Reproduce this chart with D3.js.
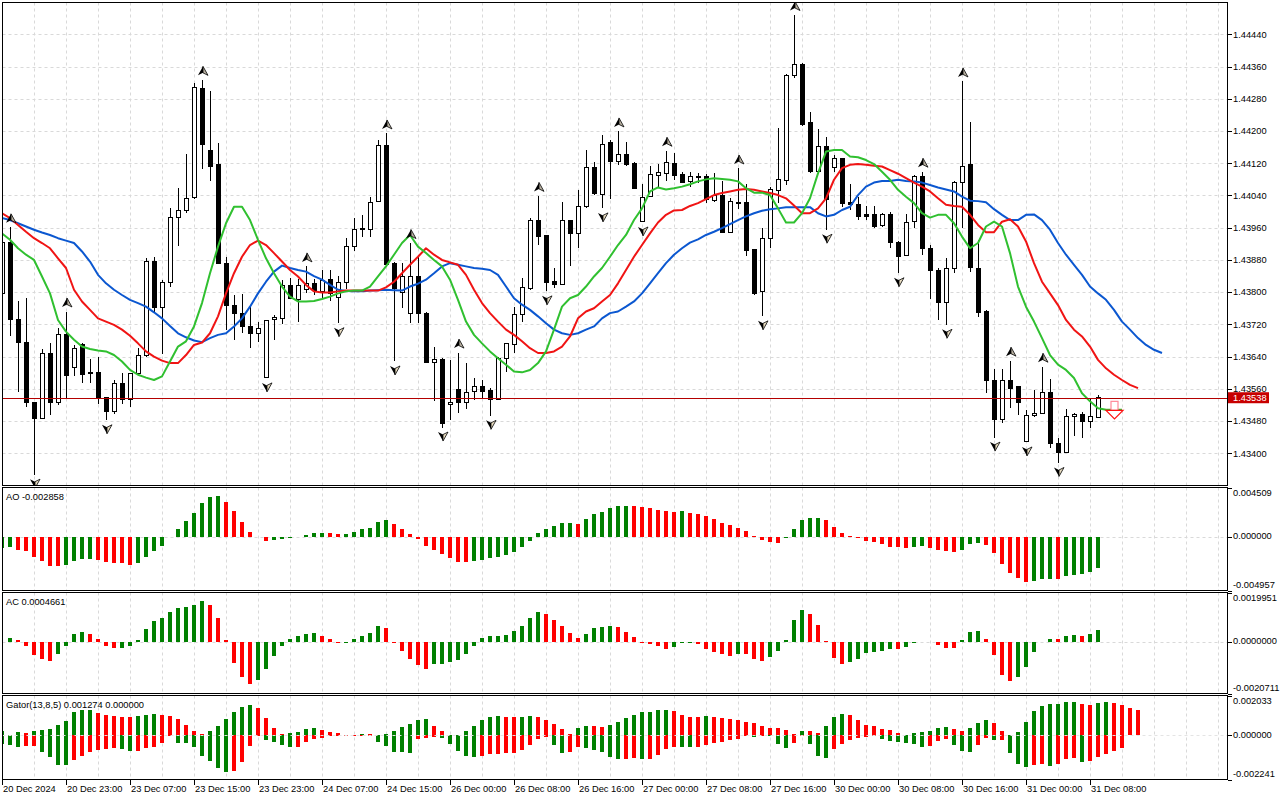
<!DOCTYPE html>
<html>
<head>
<meta charset="utf-8">
<script src="https://cdn.jsdelivr.net/npm/d3@7"></script>
<style>
  body { margin: 0; background: #fff; }
  svg { display: block; font-family: "Liberation Sans", Arial, sans-serif; font-size: 9.3px; }
</style>
</head>
<body>
<div id="chart"></div>
<script>
// H1 candles, 20 Dec 15:00 .. 31 Dec 08:00
const opens = [
  1.43797, 1.43924, 1.43731, 1.43676, 1.43525, 1.43487, 1.43649, 1.43525, 1.43696, 1.43614,
  1.43669, 1.43601, 1.43601, 1.43539, 1.43504, 1.43574, 1.43534, 1.43597, 1.43642, 1.43876,
  1.43763, 1.43825, 1.43985, 1.44002, 1.44035, 1.44306, 1.44151, 1.44116, 1.43872, 1.43768,
  1.43748, 1.43715, 1.43698, 1.43588, 1.43733, 1.43735, 1.43816, 1.43783, 1.43806, 1.43822,
  1.43802, 1.43831, 1.43787, 1.43824, 1.43913, 1.43956, 1.43956, 1.44025, 1.44163, 1.43872,
  1.43799, 1.43748, 1.43840, 1.43748, 1.43626, 1.43634, 1.43522, 1.43558, 1.43525, 1.43553,
  1.43566, 1.43555, 1.43534, 1.43636, 1.43669, 1.43745, 1.43810, 1.43979, 1.43940, 1.43827,
  1.43820, 1.43977, 1.43946, 1.44012, 1.44110, 1.44043, 1.44171, 1.44124, 1.44142, 1.44120,
  1.43975, 1.44037, 1.44089, 1.44095, 1.44120, 1.44091, 1.44075, 1.44088, 1.44087, 1.44027,
  1.44041, 1.43948, 1.44023, 1.44022, 1.43905, 1.43802, 1.43932, 1.44052, 1.44077, 1.44339,
  1.44366, 1.44222, 1.44099, 1.44161, 1.44110, 1.44132, 1.44022, 1.44018, 1.43992, 1.43992,
  1.43965, 1.43992, 1.43924, 1.43891, 1.43975, 1.44088, 1.43909, 1.43855, 1.43774, 1.43859,
  1.44073, 1.44116, 1.43859, 1.43751, 1.43582, 1.43485, 1.43582, 1.43565, 1.43429, 1.43493,
  1.43500, 1.43552, 1.43425, 1.43402, 1.43491, 1.43497, 1.43479, 1.43490
];
const highs = [
  1.43927, 1.43961, 1.43777, 1.43785, 1.43527, 1.43659, 1.43673, 1.43711, 1.43752, 1.43669,
  1.43673, 1.43634, 1.43639, 1.43541, 1.43582, 1.43599, 1.43599, 1.43661, 1.43884, 1.43888,
  1.43831, 1.44008, 1.44058, 1.44143, 1.44318, 1.44327, 1.44300, 1.44171, 1.43887, 1.43793,
  1.43795, 1.43768, 1.43727, 1.43731, 1.43744, 1.43831, 1.43835, 1.43832, 1.43864, 1.43832,
  1.43855, 1.43855, 1.43839, 1.43934, 1.43984, 1.43992, 1.44037, 1.44178, 1.44194, 1.43874,
  1.43872, 1.43922, 1.43888, 1.43750, 1.43665, 1.43636, 1.43632, 1.43650, 1.43624, 1.43587,
  1.43582, 1.43562, 1.43640, 1.43675, 1.43763, 1.43835, 1.43984, 1.44039, 1.43942, 1.43859,
  1.44025, 1.43979, 1.44054, 1.44153, 1.44122, 1.44190, 1.44178, 1.44199, 1.44172, 1.44122,
  1.44068, 1.44114, 1.44117, 1.44151, 1.44146, 1.44099, 1.44099, 1.44095, 1.44093, 1.44095,
  1.44075, 1.44033, 1.44107, 1.44068, 1.43907, 1.43959, 1.44062, 1.44207, 1.44342, 1.44488,
  1.44368, 1.44247, 1.44205, 1.44186, 1.44141, 1.44134, 1.44069, 1.44037, 1.44014, 1.44014,
  1.43996, 1.43998, 1.43926, 1.43994, 1.44091, 1.44099, 1.43917, 1.43859, 1.43886, 1.44075,
  1.44323, 1.44222, 1.43930, 1.43756, 1.43609, 1.43610, 1.43630, 1.43567, 1.43508, 1.43558,
  1.43615, 1.43585, 1.43439, 1.43511, 1.43500, 1.43502, 1.43537, 1.43544
];
const lows = [
  1.43794, 1.43690, 1.43553, 1.43515, 1.43347, 1.43485, 1.43496, 1.43520, 1.43537, 1.43591,
  1.43574, 1.43574, 1.43522, 1.43482, 1.43498, 1.43522, 1.43515, 1.43595, 1.43640, 1.43752,
  1.43647, 1.43812, 1.43915, 1.43996, 1.44032, 1.44105, 1.44075, 1.43869, 1.43706, 1.43682,
  1.43698, 1.43661, 1.43676, 1.43586, 1.43682, 1.43721, 1.43783, 1.43725, 1.43797, 1.43792,
  1.43783, 1.43778, 1.43723, 1.43807, 1.43903, 1.43938, 1.43938, 1.44023, 1.43867, 1.43628,
  1.43760, 1.43723, 1.43723, 1.43624, 1.43529, 1.43464, 1.43482, 1.43500, 1.43510, 1.43533,
  1.43537, 1.43493, 1.43532, 1.43603, 1.43650, 1.43725, 1.43806, 1.43917, 1.43802, 1.43810,
  1.43818, 1.43864, 1.43909, 1.44010, 1.44041, 1.44008, 1.44031, 1.44116, 1.44114, 1.44056,
  1.43973, 1.44035, 1.44060, 1.44075, 1.44079, 1.44070, 1.44062, 1.44070, 1.44021, 1.44025,
  1.43946, 1.43946, 1.44006, 1.43890, 1.43793, 1.43740, 1.43909, 1.44021, 1.44066, 1.44331,
  1.44213, 1.44095, 1.44095, 1.43955, 1.44099, 1.44012, 1.44004, 1.43979, 1.43979, 1.43960,
  1.43963, 1.43909, 1.43847, 1.43889, 1.43960, 1.43893, 1.43783, 1.43730, 1.43719, 1.43847,
  1.43959, 1.43851, 1.43738, 1.43549, 1.43439, 1.43475, 1.43512, 1.43494, 1.43427, 1.43491,
  1.43497, 1.43413, 1.43376, 1.43400, 1.43444, 1.43438, 1.43464, 1.43488
];
const closes = [
  1.43924, 1.43733, 1.43676, 1.43525, 1.43487, 1.43647, 1.43525, 1.43696, 1.43593, 1.43659,
  1.43595, 1.43597, 1.43539, 1.43504, 1.43574, 1.43534, 1.43597, 1.43643, 1.43876, 1.43763,
  1.43825, 1.43985, 1.44002, 1.44032, 1.44308, 1.44167, 1.44112, 1.43872, 1.43767, 1.43748,
  1.43715, 1.43698, 1.43711, 1.43729, 1.43737, 1.43816, 1.43785, 1.43816, 1.43822, 1.43803,
  1.43828, 1.43797, 1.43824, 1.43913, 1.43956, 1.43959, 1.44023, 1.44163, 1.43869, 1.43808,
  1.43839, 1.43840, 1.43748, 1.43625, 1.43634, 1.43475, 1.43527, 1.43525, 1.43551, 1.43566,
  1.43553, 1.43534, 1.43636, 1.43672, 1.43745, 1.43812, 1.43979, 1.43938, 1.43824, 1.43818,
  1.43977, 1.43946, 1.44012, 1.44110, 1.44044, 1.44167, 1.44124, 1.44141, 1.44117, 1.44058,
  1.44035, 1.44091, 1.44096, 1.44121, 1.44089, 1.44072, 1.44088, 1.44084, 1.44029, 1.44041,
  1.43948, 1.44025, 1.44021, 1.43903, 1.43797, 1.43932, 1.44054, 1.44080, 1.44339, 1.44366,
  1.44215, 1.44099, 1.44161, 1.44029, 1.44132, 1.44021, 1.44017, 1.43988, 1.43989, 1.43964,
  1.43992, 1.43923, 1.43888, 1.43974, 1.44088, 1.43909, 1.43854, 1.43774, 1.43859, 1.44073,
  1.44113, 1.43861, 1.43749, 1.43582, 1.43485, 1.43582, 1.43562, 1.43526, 1.43493, 1.43500,
  1.43552, 1.43425, 1.43402, 1.43491, 1.43497, 1.43479, 1.43491, 1.43538
];

// Alligator lines (already shifted forward: jaw 8, teeth 5, lips 3)
const jaw = [
  1.43984, 1.43979, 1.43971, 1.43963, 1.43955, 1.43948, 1.43942, 1.43934, 1.43928, 1.43922,
  1.43901, 1.43876, 1.43843, 1.43822, 1.43806, 1.43793, 1.43781, 1.43773, 1.43764, 1.43750,
  1.43735, 1.43716, 1.43698, 1.43688, 1.43680, 1.43676, 1.43686, 1.43694, 1.43698, 1.43715,
  1.43735, 1.43764, 1.43797, 1.43826, 1.43851, 1.43866, 1.43860, 1.43855, 1.43851, 1.43840,
  1.43831, 1.43818, 1.43806, 1.43803, 1.43802, 1.43802, 1.43804, 1.43805, 1.43806, 1.43805,
  1.43804, 1.43814, 1.43821, 1.43831, 1.43847, 1.43864, 1.43872, 1.43868, 1.43864, 1.43860,
  1.43858, 1.43855, 1.43843, 1.43814, 1.43785, 1.43769, 1.43756, 1.43740, 1.43723, 1.43707,
  1.43698, 1.43694, 1.43698, 1.43707, 1.43715, 1.43735, 1.43748, 1.43752, 1.43764, 1.43777,
  1.43797, 1.43822, 1.43847, 1.43872, 1.43893, 1.43909, 1.43923, 1.43931, 1.43942, 1.43950,
  1.43959, 1.43969, 1.43979, 1.43988, 1.43996, 1.44002, 1.44006, 1.44008, 1.44011, 1.44011,
  1.44011, 1.44011, 1.43996, 1.43988, 1.43992, 1.44004, 1.44012, 1.44041, 1.44062, 1.44072,
  1.44076, 1.44076, 1.44079, 1.44076, 1.44075, 1.44072, 1.44066, 1.44060, 1.44055, 1.44050,
  1.44037, 1.44027, 1.44026, 1.44023, 1.44006, 1.43992, 1.43979, 1.43979, 1.43992, 1.43993,
  1.43979, 1.43955, 1.43922, 1.43893, 1.43868, 1.43843, 1.43814, 1.43797, 1.43781, 1.43756,
  1.43727, 1.43707, 1.43686, 1.43669, 1.43657, 1.43649
];
const teeth = [
  1.43996, 1.43984, 1.43967, 1.43950, 1.43934, 1.43922, 1.43909, 1.43884, 1.43860, 1.43806,
  1.43777, 1.43756, 1.43735, 1.43727, 1.43719, 1.43707, 1.43692, 1.43673, 1.43653, 1.43640,
  1.43630, 1.43624, 1.43624, 1.43644, 1.43669, 1.43675, 1.43698, 1.43740, 1.43797, 1.43847,
  1.43888, 1.43917, 1.43928, 1.43917, 1.43897, 1.43876, 1.43855, 1.43839, 1.43818, 1.43802,
  1.43799, 1.43799, 1.43802, 1.43804, 1.43804, 1.43804, 1.43804, 1.43804, 1.43812, 1.43826,
  1.43847, 1.43868, 1.43888, 1.43909, 1.43893, 1.43880, 1.43874, 1.43868, 1.43843, 1.43806,
  1.43773, 1.43748, 1.43727, 1.43707, 1.43694, 1.43678, 1.43661, 1.43649, 1.43649, 1.43653,
  1.43665, 1.43690, 1.43735, 1.43752, 1.43760, 1.43777, 1.43793, 1.43822, 1.43855, 1.43888,
  1.43917, 1.43946, 1.43973, 1.43992, 1.44003, 1.44004, 1.44014, 1.44021, 1.44031, 1.44041,
  1.44046, 1.44050, 1.44054, 1.44056, 1.44054, 1.44050, 1.44046, 1.44041, 1.44033, 1.44015,
  1.43996, 1.43996, 1.44008, 1.44033, 1.44079, 1.44108, 1.44116, 1.44118, 1.44116, 1.44114,
  1.44112, 1.44103, 1.44094, 1.44083, 1.44072, 1.44062, 1.44050, 1.44033, 1.44017, 1.44014,
  1.44012, 1.43992, 1.43967, 1.43949, 1.43949, 1.43975, 1.43981, 1.43963, 1.43926, 1.43872,
  1.43826, 1.43797, 1.43768, 1.43731, 1.43707, 1.43690, 1.43665, 1.43632, 1.43611, 1.43595,
  1.43582, 1.43570, 1.43562
];
const lips = [
  1.43946, 1.43930, 1.43909, 1.43893, 1.43880, 1.43839, 1.43797, 1.43731, 1.43702, 1.43682,
  1.43665, 1.43659, 1.43655, 1.43653, 1.43644, 1.43628, 1.43607, 1.43595, 1.43588, 1.43582,
  1.43591, 1.43628, 1.43665, 1.43678, 1.43715, 1.43773, 1.43847, 1.43913, 1.43971, 1.44012,
  1.44012, 1.43979, 1.43930, 1.43884, 1.43847, 1.43814, 1.43789, 1.43777, 1.43777, 1.43778,
  1.43783, 1.43789, 1.43797, 1.43802, 1.43804, 1.43804, 1.43814, 1.43839, 1.43864, 1.43893,
  1.43922, 1.43942, 1.43913, 1.43897, 1.43880, 1.43864, 1.43831, 1.43781, 1.43727, 1.43694,
  1.43673, 1.43653, 1.43636, 1.43620, 1.43603, 1.43601, 1.43607, 1.43624, 1.43653, 1.43707,
  1.43764, 1.43785, 1.43793, 1.43814, 1.43839, 1.43860, 1.43888, 1.43917, 1.43942, 1.43979,
  1.44008, 1.44050, 1.44060, 1.44055, 1.44058, 1.44062, 1.44068, 1.44075, 1.44080, 1.44083,
  1.44081, 1.44079, 1.44075, 1.44058, 1.44047, 1.44047, 1.44041, 1.44008, 1.43973, 1.43973,
  1.43996, 1.44033, 1.44095, 1.44149, 1.44153, 1.44153, 1.44137, 1.44135, 1.44128, 1.44118,
  1.44099, 1.44079, 1.44054, 1.44037, 1.44021, 1.43996, 1.43985, 1.43992, 1.43992, 1.43971,
  1.43938, 1.43909, 1.43922, 1.43963, 1.43975, 1.43963, 1.43897, 1.43814, 1.43764, 1.43727,
  1.43686, 1.43644, 1.43620, 1.43607, 1.43587, 1.43549, 1.43529, 1.43512, 1.43508, 1.43508,
  1.43508
];

// Bill Williams fractals (bar indices)
const fractalUp = [1, 8, 25, 38, 48, 51, 57, 67, 77, 83, 92, 99, 115, 120, 126, 130];
const fractalDown = [4, 13, 33, 42, 49, 55, 61, 68, 75, 80, 95, 103, 112, 118, 124, 128, 132];
const sellSignal = { index: 139, price: 1.43529 };
const lastPrice = 1.43538;

const ao = [
  -0.00105, -0.00099, -0.00123, -0.00136, -0.00191, -0.00228, -0.00268, -0.00270, -0.00265, -0.00222,
  -0.00206, -0.00203, -0.00215, -0.00231, -0.00246, -0.00247, -0.00259, -0.00240, -0.00185, -0.00129,
  -0.00083, -0.00006, 0.00065, 0.00139, 0.00212, 0.00305, 0.00360, 0.00369, 0.00314, 0.00231,
  0.00135, 0.00046, -0.00006, -0.00037, -0.00035, -0.00022, -0.00012, -0.00003, 0.00015, 0.00034,
  0.00035, 0.00033, 0.00025, 0.00026, 0.00043, 0.00065, 0.00083, 0.00135, 0.00154, 0.00111,
  0.00071, 0.00025, -0.00025, -0.00089, -0.00120, -0.00163, -0.00200, -0.00237, -0.00238, -0.00225,
  -0.00212, -0.00200, -0.00191, -0.00172, -0.00145, -0.00099, -0.00037, 0.00034, 0.00071, 0.00099,
  0.00126, 0.00127, 0.00120, 0.00157, 0.00203, 0.00228, 0.00259, 0.00277, 0.00283, 0.00282,
  0.00268, 0.00265, 0.00246, 0.00231, 0.00230, 0.00232, 0.00219, 0.00209, 0.00185, 0.00163,
  0.00126, 0.00102, 0.00080, 0.00052, 0.00009, -0.00031, -0.00046, -0.00055, -0.00012, 0.00071,
  0.00148, 0.00172, 0.00173, 0.00148, 0.00086, 0.00031, 0.00008, -0.00010, -0.00037, -0.00052,
  -0.00072, -0.00099, -0.00100, -0.00103, -0.00095, -0.00089, -0.00108, -0.00120, -0.00136, -0.00145,
  -0.00120, -0.00071, -0.00062, -0.00077, -0.00154, -0.00256, -0.00339, -0.00385, -0.00413, -0.00404,
  -0.00388, -0.00386, -0.00388, -0.00360, -0.00351, -0.00342, -0.00323, -0.002858
];
const ac = [
  0.00000, 0.00015, 0.00007, -0.00015, -0.00053, -0.00069, -0.00077, -0.00049, -0.00015, 0.00033,
  0.00041, 0.00033, 0.00011, -0.00015, -0.00023, -0.00022, -0.00015, 0.00007, 0.00053, 0.00085,
  0.00098, 0.00122, 0.00138, 0.00142, 0.00150, 0.00167, 0.00150, 0.00098, 0.00007, -0.00085,
  -0.00141, -0.00169, -0.00153, -0.00110, -0.00056, -0.00015, 0.00011, 0.00024, 0.00031, 0.00037,
  0.00024, 0.00011, -0.00003, -0.00002, 0.00011, 0.00024, 0.00035, 0.00065, 0.00057, -0.00003,
  -0.00037, -0.00069, -0.00093, -0.00110, -0.00089, -0.00088, -0.00081, -0.00073, -0.00049, -0.00016,
  0.00016, 0.00024, 0.00025, 0.00028, 0.00045, 0.00066, 0.00098, 0.00122, 0.00114, 0.00089,
  0.00065, 0.00037, 0.00016, 0.00033, 0.00057, 0.00061, 0.00065, 0.00061, 0.00041, 0.00020,
  -0.00004, -0.00008, -0.00016, -0.00027, -0.00019, -0.00005, -0.00003, -0.00008, -0.00027, -0.00041,
  -0.00049, -0.00056, -0.00047, -0.00048, -0.00069, -0.00077, -0.00060, -0.00035, 0.00008, 0.00089,
  0.00130, 0.00114, 0.00068, 0.00003, -0.00064, -0.00088, -0.00080, -0.00068, -0.00043, -0.00039,
  -0.00035, -0.00027, -0.00028, -0.00019, -0.00003, 0.00000, -0.00001, -0.00011, -0.00023, -0.00024,
  0.00008, 0.00041, 0.00045, 0.00014, -0.00051, -0.00133, -0.00157, -0.00141, -0.00100, -0.00039,
  -0.00001, 0.00012, 0.00011, 0.00026, 0.00028, 0.00026, 0.00033, 0.0004661
];
const gatorUpper = [
  0.00022, 0.00003, 0.00017, 0.00012, 0.00022, 0.00029, 0.00034, 0.00053, 0.00073, 0.00119,
  0.00127, 0.00129, 0.00114, 0.00103, 0.00098, 0.00093, 0.00092, 0.00098, 0.00103, 0.00109,
  0.00103, 0.00098, 0.00083, 0.00053, 0.00022, 0.00007, 0.00022, 0.00047, 0.00083, 0.00119,
  0.00144, 0.00154, 0.00141, 0.00090, 0.00039, 0.00007, 0.00012, 0.00019, 0.00032, 0.00037,
  0.00027, 0.00017, 0.00012, 0.00001, 0.00003, 0.00006, 0.00005, 0.00001, 0.00007, 0.00022,
  0.00044, 0.00058, 0.00078, 0.00083, 0.00047, 0.00022, 0.00001, 0.00000, 0.00022, 0.00047,
  0.00078, 0.00093, 0.00098, 0.00093, 0.00092, 0.00094, 0.00098, 0.00093, 0.00078, 0.00058,
  0.00032, 0.00007, 0.00037, 0.00047, 0.00046, 0.00045, 0.00053, 0.00068, 0.00088, 0.00103,
  0.00119, 0.00120, 0.00129, 0.00130, 0.00124, 0.00103, 0.00093, 0.00092, 0.00098, 0.00093,
  0.00088, 0.00083, 0.00078, 0.00068, 0.00063, 0.00047, 0.00037, 0.00036, 0.00027, 0.00007,
  0.00022, 0.00021, 0.00012, 0.00047, 0.00093, 0.00109, 0.00103, 0.00078, 0.00053, 0.00047,
  0.00032, 0.00027, 0.00012, 0.00001, 0.00010, 0.00017, 0.00022, 0.00037, 0.00042, 0.00032,
  0.00022, 0.00037, 0.00063, 0.00078, 0.00063, 0.00022, 0.00001, 0.00017, 0.00068, 0.00124,
  0.00149, 0.00159, 0.00160, 0.00170, 0.00171, 0.00160, 0.00155, 0.00165, 0.00170, 0.00165,
  0.00154, 0.00139, 0.001274
];
const gatorLower = [
  -0.00046, -0.00048, -0.00059, -0.00056, -0.00054, -0.00085, -0.00110, -0.00149, -0.00150, -0.00124,
  -0.00102, -0.00085, -0.00073, -0.00068, -0.00064, -0.00068, -0.00078, -0.00077, -0.00064, -0.00059,
  -0.00039, -0.00003, -0.00039, -0.00040, -0.00059, -0.00103, -0.00131, -0.00166, -0.00187, -0.00181,
  -0.00136, -0.00053, -0.00002, -0.00022, -0.00034, -0.00049, -0.00059, -0.00058, -0.00034, -0.00019,
  -0.00012, -0.00003, -0.00002, -0.00001, -0.00001, -0.00001, -0.00001, -0.00032, -0.00054, -0.00085,
  -0.00086, -0.00087, -0.00017, -0.00012, -0.00007, -0.00012, -0.00042, -0.00078, -0.00103, -0.00109,
  -0.00103, -0.00093, -0.00092, -0.00088, -0.00087, -0.00073, -0.00047, -0.00017, -0.00007, -0.00047,
  -0.00088, -0.00083, -0.00058, -0.00063, -0.00073, -0.00083, -0.00109, -0.00119, -0.00118, -0.00114,
  -0.00119, -0.00118, -0.00098, -0.00068, -0.00058, -0.00059, -0.00060, -0.00058, -0.00047, -0.00037,
  -0.00032, -0.00022, -0.00017, -0.00003, -0.00007, -0.00001, -0.00003, -0.00042, -0.00063, -0.00037,
  -0.00003, -0.00042, -0.00103, -0.00114, -0.00068, -0.00042, -0.00022, -0.00012, -0.00007, -0.00003,
  -0.00017, -0.00027, -0.00032, -0.00037, -0.00042, -0.00058, -0.00053, -0.00027, -0.00017, -0.00047,
  -0.00078, -0.00083, -0.00047, -0.00012, -0.00022, -0.00021, -0.00088, -0.00144, -0.00159, -0.00149,
  -0.00144, -0.00154, -0.00144, -0.00119, -0.00114, -0.00134, -0.00129, -0.00109, -0.00093, -0.00078,
  -0.00063
];

const priceTicks = [1.43400, 1.43480, 1.43560, 1.43640, 1.43720, 1.43800, 1.43880,
                    1.43960, 1.44040, 1.44120, 1.44200, 1.44280, 1.44360, 1.44440];
const timeLabels = ["20 Dec 2024", "20 Dec 23:00", "23 Dec 07:00", "23 Dec 15:00", "23 Dec 23:00",
  "24 Dec 07:00", "24 Dec 15:00", "26 Dec 00:00", "26 Dec 08:00", "26 Dec 16:00", "27 Dec 00:00",
  "27 Dec 08:00", "27 Dec 16:00", "30 Dec 00:00", "30 Dec 08:00", "30 Dec 16:00", "31 Dec 00:00",
  "31 Dec 08:00"];
const aoRange = [-0.004957, 0.004509];
const acRange = [-0.0020711, 0.0019951];
const gatorRange = [-0.002241, 0.002033];

const width = 1280, height = 800;
const left = 2.5, right = 1227.5;
const GREEN = "#008000", RED = "#ff0000";

const svg = d3.select("#chart").append("svg")
    .attr("width", width)
    .attr("height", height);

const x = d3.scaleLinear().domain([0, 153]).range([2, 1226]);
const y = d3.scaleLinear().domain([1.434, 1.4444]).range([453.33, 34.33]);
const yAO = d3.scaleLinear().domain(aoRange).range([590.5, 487.5]);
const yAC = d3.scaleLinear().domain(acRange).range([693.5, 592.5]);
const yGator = d3.scaleLinear().domain(gatorRange).range([779.5, 695.5]);

function makePanel(name, top, bottom) {
    svg.append("clipPath").attr("id", "clip-" + name)
      .append("rect")
        .attr("x", left + 0.5).attr("y", top + 0.5)
        .attr("width", right - left - 1).attr("height", bottom - top - 1);
    const g = svg.append("g");
    // vertical grid every 4 bars
    g.append("g").selectAll("line")
      .data(d3.range(4, 153, 4))
      .join("line")
        .attr("x1", i => Math.round(x(i)) + 0.5).attr("x2", i => Math.round(x(i)) + 0.5)
        .attr("y1", top).attr("y2", bottom)
        .attr("stroke", "#d9d9d9").attr("stroke-dasharray", "3,3");
    const body = g.append("g").attr("clip-path", `url(#clip-${name})`);
    g.append("rect")
        .attr("x", left).attr("y", top)
        .attr("width", right - left).attr("height", bottom - top)
        .attr("fill", "none").attr("stroke", "#000").attr("shape-rendering", "crispEdges");
    return body;
}

function hLine(g, yy, color) {
    g.append("line")
        .attr("x1", left).attr("x2", right)
        .attr("y1", Math.round(yy) + 0.5).attr("y2", Math.round(yy) + 0.5)
        .attr("stroke", color).attr("stroke-dasharray", "3,3");
}

// colour each bar by rising / falling vs previous bar
function risingColors(vals, useAbs) {
    let prev = GREEN;
    return vals.map((v, i) => {
        if (i === 0) return prev;
        const a = useAbs ? Math.abs(v) : v, b = useAbs ? Math.abs(vals[i - 1]) : vals[i - 1];
        if (a > b) prev = GREEN; else if (a < b) prev = RED;
        return prev;
    });
}

function histogram(g, vals, scale, colors) {
    g.append("g").attr("shape-rendering", "crispEdges")
      .selectAll("rect")
      .data(vals)
      .join("rect")
        .attr("x", (d, i) => x(i) - 2)
        .attr("width", 4)
        .attr("y", d => Math.min(scale(d), scale(0)))
        .attr("height", d => Math.abs(scale(d) - scale(0)))
        .attr("fill", (d, i) => colors[i]);
}

// ---------- main price panel ----------
const main = makePanel("main", 2.5, 485.5);
priceTicks.forEach(p => hLine(main, y(p), "#d9d9d9"));

const candles = main.append("g").attr("shape-rendering", "crispEdges");
candles.selectAll("line")
  .data(opens)
  .join("line")
    .attr("x1", (d, i) => x(i) + 0.5).attr("x2", (d, i) => x(i) + 0.5)
    .attr("y1", (d, i) => y(highs[i])).attr("y2", (d, i) => y(lows[i]))
    .attr("stroke", "#000");
candles.selectAll("rect")
  .data(opens)
  .join("rect")
    .attr("x", (d, i) => x(i) - 1.5)
    .attr("width", 4)
    .attr("y", (d, i) => y(Math.max(d, closes[i])))
    .attr("height", (d, i) => Math.max(1, Math.abs(y(d) - y(closes[i]))))
    .attr("fill", (d, i) => closes[i] >= d ? "#fff" : "#000")
    .attr("stroke", "#000");

const line = d3.line().x((d, i) => x(i)).y(d => y(d));
[[jaw, "#0b57d0"], [teeth, "#f01414"], [lips, "#30c030"]].forEach(([data, color]) => {
    main.append("path")
        .attr("d", line(data))
        .attr("fill", "none")
        .attr("stroke", color)
        .attr("stroke-width", 2)
        .attr("stroke-linejoin", "round");
});

// last price line
main.append("line")
    .attr("x1", left).attr("x2", right)
    .attr("y1", Math.round(y(lastPrice)) + 0.5).attr("y2", Math.round(y(lastPrice)) + 0.5)
    .attr("stroke", "#b40000").attr("stroke-width", 1);

// fractal arrows
const upArrow = main.append("g").selectAll("g")
  .data(fractalUp)
  .join("g")
    .attr("transform", i => `translate(${x(i) + 1},${y(highs[i]) - 9})`);
upArrow.append("path").attr("d", "M0,-4.5 L-5,4.5 L0,2 Z").attr("fill", "#000");
upArrow.append("path").attr("d", "M0,-4.5 L5,4.5 L0,2 Z").attr("fill", "#b8b0a0")
    .attr("stroke", "#000").attr("stroke-width", 0.8);

const downArrow = main.append("g").selectAll("g")
  .data(fractalDown)
  .join("g")
    .attr("transform", i => `translate(${x(i) + 1},${y(lows[i]) + 9})`);
downArrow.append("path").attr("d", "M0,4.5 L-5,-4.5 L0,-2 Z").attr("fill", "#000");
downArrow.append("path").attr("d", "M0,4.5 L5,-4.5 L0,-2 Z").attr("fill", "#e8dcc0")
    .attr("stroke", "#000").attr("stroke-width", 0.8);

// sell signal arrow: pale shaft, red head
const sx = x(sellSignal.index), sy = y(sellSignal.price);
main.append("rect")
    .attr("x", sx - 3).attr("y", sy)
    .attr("width", 7).attr("height", 9)
    .attr("fill", "#fff")
    .attr("stroke", "#ff8a9a").attr("stroke-width", 1.2);
main.append("path")
    .attr("d", `M${sx - 8},${sy + 9} h17 l-8.5,8.5 Z`)
    .attr("fill", "#fff")
    .attr("stroke", "#ff1010").attr("stroke-width", 1.2)
    .attr("stroke-linejoin", "miter");

// ---------- AO ----------
const aoPanel = makePanel("ao", 487.5, 590.5);
hLine(aoPanel, yAO(0), "#d9d9d9");
histogram(aoPanel, ao, yAO, risingColors(ao, false));

// ---------- AC ----------
const acPanel = makePanel("ac", 592.5, 693.5);
hLine(acPanel, yAC(0), "#d9d9d9");
histogram(acPanel, ac, yAC, risingColors(ac, false));

// ---------- Gator ----------
const gatorPanel = makePanel("gator", 695.5, 779.5);
histogram(gatorPanel, gatorUpper, yGator, risingColors(gatorUpper, true));
histogram(gatorPanel, gatorLower, yGator, risingColors(gatorLower, true));
hLine(gatorPanel, yGator(0), "#e4e4e4");

// ---------- right price axis ----------
const axis = svg.append("g").attr("shape-rendering", "crispEdges");
function axisLabel(yy, text, tickY) {
    axis.append("line")
        .attr("x1", right).attr("x2", right + 4)
        .attr("y1", Math.round(tickY) + 0.5).attr("y2", Math.round(tickY) + 0.5)
        .attr("stroke", "#000");
    svg.append("text")
        .attr("x", 1233).attr("y", yy).attr("dy", "0.35em")
        .attr("fill", "#000")
        .text(text);
}
priceTicks.forEach(p => axisLabel(y(p), p.toFixed(5), y(p)));

const box = svg.append("g");
box.append("rect")
    .attr("x", 1228).attr("y", y(lastPrice) - 5.5)
    .attr("width", 41).attr("height", 11)
    .attr("fill", "#c80000");
box.append("text")
    .attr("x", 1233).attr("y", y(lastPrice)).attr("dy", "0.35em")
    .attr("fill", "#fff")
    .text(lastPrice.toFixed(5));

[[yAO, aoRange, 6], [yAC, acRange, 7], [yGator, gatorRange, 6]].forEach(([scale, range, digits]) => {
    axisLabel(scale(range[1]) + 5, range[1].toFixed(digits), scale(range[1]));
    axisLabel(scale(0) - 1, (0).toFixed(digits), scale(0));
    axisLabel(scale(range[0]) - 6, range[0].toFixed(digits), scale(range[0]));
});

// ---------- indicator captions ----------
svg.append("text").attr("x", 6).attr("y", 496.5).attr("dy", "0.35em")
    .text("AO " + ao[ao.length - 1].toFixed(6));
svg.append("text").attr("x", 6).attr("y", 601.5).attr("dy", "0.35em")
    .text("AC " + ac[ac.length - 1].toFixed(7));
svg.append("text").attr("x", 6).attr("y", 704.5).attr("dy", "0.35em")
    .text("Gator(13,8,5) " + gatorUpper[gatorUpper.length - 1].toFixed(6) + " 0.000000");

// ---------- time axis ----------
timeLabels.forEach((label, k) => {
    const tx = Math.round(x(k * 8)) + 0.5;
    axis.append("line")
        .attr("x1", tx).attr("x2", tx)
        .attr("y1", 779.5).attr("y2", 784.5)
        .attr("stroke", "#000");
    svg.append("text")
        .attr("x", tx + 0.5).attr("y", 788.5).attr("dy", "0.35em")
        .text(label);
});
</script>
</body>
</html>
